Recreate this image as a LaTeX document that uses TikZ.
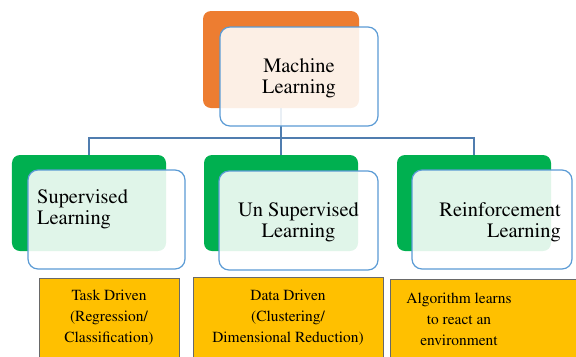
\documentclass[tikz,border=0pt]{standalone}
\usepackage[T1]{fontenc}
\usepackage{mathptmx}
\definecolor{mlorange}{RGB}{237,125,49}
\definecolor{mlgreen}{RGB}{0,176,80}
\definecolor{mlblue}{RGB}{91,155,213}
\definecolor{mlline}{RGB}{80,125,175}
\definecolor{mlyellow}{RGB}{255,192,0}
\definecolor{mlgray}{RGB}{105,105,105}
\begin{document}
\begin{tikzpicture}[x=1bp,y=-1bp,
                        back node/.style={rectangle,rounded corners=8bp,inner sep=0pt,
                                          minimum width=156bp,minimum height=97bp},
                        front node/.style={rectangle,rounded corners=10bp,inner sep=0pt,
                                           draw=mlblue,line width=1.2bp,fill=white,fill opacity=0.88,text opacity=1,
                                           minimum width=158bp,minimum height=99bp,text depth=0pt,
                                           font=\fontsize{20.5}{21}\selectfont},
                        main text/.style={inner sep=0pt,font=\fontsize{20.5}{21}\selectfont},
                        leaf node/.style={rectangle,draw=mlgray,line width=0.8bp,fill=mlyellow,
                                          anchor=north west,minimum height=100bp},
                        leaf text/.style={inner sep=0pt,align=center,font=\fontsize{15.5}{21}\selectfont},
                        link/.style={draw=mlline,line width=1.2bp}]

    \useasboundingbox (0,0) rectangle (576,356);
    \clip (0,0) rectangle (576,356);

    % Define back boxes
    \node[back node,fill=mlorange] (mlback) at (281,59.5) {};
    \node[back node,fill=mlgreen,minimum width=154bp,minimum height=96bp] (supback) at (89,203) {};
    \node[back node,fill=mlgreen,minimum width=154bp,minimum height=96bp] (unback) at (281,203) {};
    \node[back node,fill=mlgreen,minimum width=154bp,minimum height=96bp] (rlback) at (474,203) {};

    % Define connectors
    \coordinate (bus) at (281,138);
    \draw[link] (mlback.south) -- (bus) -| (supback.north);
    \draw[link] (bus) -- (unback.north);
    \draw[link] (bus) -| (rlback.north);

    % Define front boxes
    \node[front node,align=center] (ml) at (299,76.5) {Machine\\Learning};
    \node[front node,minimum width=157bp] (sup) at (106.5,219.5) {};
    \node[front node,minimum width=159bp,align=center] (unsup) at (298.5,220.5) {Un Supervised\\Learning};
    \node[front node,minimum width=160bp] (rl) at (492,219.5) {};
    \node[main text,align=left,anchor=west] (suptext) at (37,209) {Supervised\\Learning};
    \node[main text,align=right,anchor=east] (rltext) at (561,222.5) {Reinforcement\\Learning};

    % Define leaves
    \node[leaf node,minimum width=140bp] (task) at (39,278) {};
    \node[leaf node,minimum width=190bp] (data) at (193,277) {};
    \node[leaf node,minimum width=200bp] (algo) at (390,279) {};
    \node[leaf text] (tasktext) at (109,318) {Task Driven\\(Regression/\\Classification)};
    \node[leaf text] (datatext) at (288,318) {Data Driven\\(Clustering/\\Dimensional Reduction)};
    \node[leaf text] (algotext) at (459,319) {Algorithm learns\\to react an\\environment};

\end{tikzpicture}
\end{document}
